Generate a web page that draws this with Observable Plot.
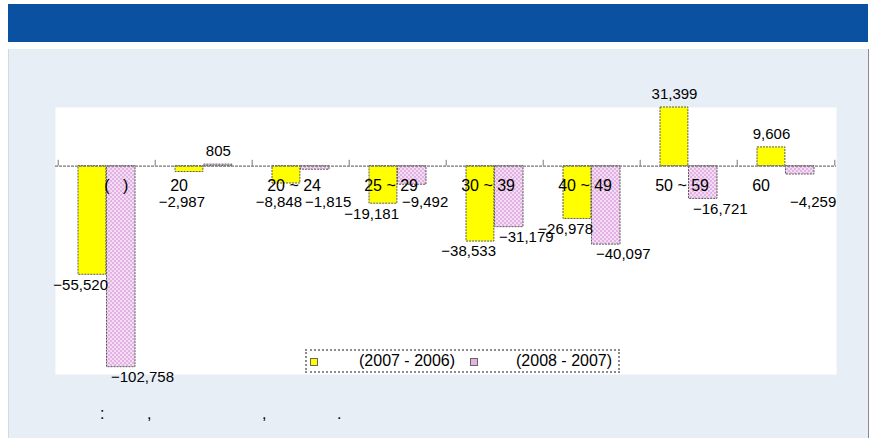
<!DOCTYPE html>
<html>
<head>
<meta charset="utf-8">
<script src="https://cdn.jsdelivr.net/npm/d3@7"></script>
<script src="https://cdn.jsdelivr.net/npm/@observablehq/plot@0.6"></script>
<style>
  html, body { margin: 0; padding: 0; background: #ffffff; }
  #wrap { position: relative; width: 874px; height: 438px; overflow: hidden;
          font-family: "Liberation Sans", Arial, sans-serif; color: #000; }
  #header { position: absolute; left: 8px; top: 4px; width: 860px; height: 38px; background: #0b51a1; }
  #panel { position: absolute; left: 8px; top: 49px; height: 389px; background: #e8eef6;
           border-left: 1px solid #d2d9e4; border-right: 1px solid #8a8a8a; box-sizing: border-box; width: 861px; }
  #chart { position: absolute; left: 0; top: 0; }
  #legend { position: absolute; left: 305px; top: 349px; width: 315px; height: 24px; box-sizing: border-box;
            background: #fff; border: 2px dotted #8c8c8c; font-size: 16px; }
  #legend .sq { position: absolute; top: 7px; width: 6px; height: 6px; border: 1px solid #666; }
  #legend .lab { position: absolute; top: 0; line-height: 20px; white-space: pre; }
  .cap { position: absolute; top: 404px; font-size: 16px; line-height: 20px; }
</style>
</head>
<body>
<div id="wrap">
  <div id="header"></div>
  <div id="panel"></div>
  <div id="chart"></div>
  <div id="legend"></div>
  <span class="cap" style="left:100px">:</span>
  <span class="cap" style="left:147px">,</span>
  <span class="cap" style="left:262px">,</span>
  <span class="cap" style="left:337px">.</span>
</div>
<script>
// ---- data ----
const categories = ["\u00a0\u00a0\u00a0\u00a0\u00a0\u00a0\u00a0(\u00a0\u00a0\u00a0)", "20", "20 ~ 24", "25 ~ 29", "30 ~ 39", "40 ~ 49", "50 ~ 59", "60"];
const change2007 = [-55520, -2987, -8848, -19181, -38533, -26978, 31399, 9606];
const change2008 = [-102758, 805, -1815, -9492, -31179, -40097, -16721, -4259];
const seriesNames = ["(2007 - 2006)", "(2008 - 2007)"];
const seriesColors = ["#ffff00", "url(#pinkDots)"];

// ---- layout ----
const W = 874, H = 438;
const mL = 55, mR = 38, mT = 107, mB = 64;
const bw = (W - mL - mR) / categories.length;
const fmt = d3.format(",");

const rows1 = categories.map((c, i) => ({cat: c, v: change2007[i]}));
const rows2 = categories.map((c, i) => ({cat: c, v: change2008[i]}));
const labelFloor = -13450; // negative labels never sit higher than this, to clear category labels

const barStyle = {stroke: "#5a5a5a", strokeWidth: 1, strokeDasharray: "2,1"};
const valFont = 15;

const chart = Plot.plot({
  width: W, height: H,
  marginLeft: mL, marginRight: mR, marginTop: mT, marginBottom: mB,
  style: {background: "transparent", fontFamily: "Liberation Sans, Arial, sans-serif", fontSize: "16px", color: "#000", overflow: "visible"},
  x: {type: "band", domain: categories, padding: 0, axis: null},
  y: {domain: [-106500, 30000], clamp: true, axis: null},
  marks: [
    Plot.frame({fill: "white", stroke: "none"}),
    Plot.barY(rows1, {x: "cat", y: "v", fill: seriesColors[0], insetLeft: 20, insetRight: bw - 48.5, ...barStyle}),
    Plot.barY(rows2, {x: "cat", y: "v", fill: seriesColors[1], insetLeft: 48.5, insetRight: 20, ...barStyle}),
    Plot.ruleY([0], {stroke: "#777", strokeWidth: 1.2, strokeDasharray: "3,1"}),
    Plot.ruleX(categories, {x: d => d, y1: 0, y2: 3000, dx: -bw / 2, stroke: "#777"}),
    Plot.ruleX(categories.slice(-1), {x: d => d, y1: 0, y2: 3000, dx: bw / 2, stroke: "#777"}),
    Plot.text(categories, {x: d => d, y: 0, text: d => d, dy: 19.5, dx: -bw / 2 + 15, textAnchor: "start", fontSize: 16, fill: "#000"}),
    Plot.text(rows1.filter(d => d.v >= 0), {x: "cat", y: "v", text: d => fmt(d.v), dx: -14.5, dy: -13, fontSize: valFont, fill: "#000"}),
    Plot.text(rows2.filter(d => d.v >= 0), {x: "cat", y: "v", text: d => fmt(d.v), dx: 14.3, dy: -13, fontSize: valFont, fill: "#000"}),
    Plot.text(rows1.filter(d => d.v < 0), {x: "cat", y: d => Math.min(d.v, labelFloor), text: d => fmt(d.v), textAnchor: "end", dx: 1, dy: 10, fontSize: valFont, fill: "#000"}),
    Plot.text(rows2.filter(d => d.v < 0), {x: "cat", y: d => Math.min(d.v, labelFloor), text: d => fmt(d.v), textAnchor: "start", dx: 4, dy: 10, fontSize: valFont, fill: "#000"})
  ]
});

// pink dotted fill pattern
const svgSel = d3.select(chart);
const pat = svgSel.insert("defs", ":first-child").append("pattern")
  .attr("id", "pinkDots").attr("patternUnits", "userSpaceOnUse")
  .attr("width", 4).attr("height", 4);
pat.append("rect").attr("width", 4).attr("height", 4).attr("fill", "#e2b2e2");
pat.append("rect").attr("x", 0).attr("y", 0).attr("width", 2).attr("height", 2).attr("fill", "#f4dcf4");
pat.append("rect").attr("x", 2).attr("y", 2).attr("width", 2).attr("height", 2).attr("fill", "#f4dcf4");
svgSel.selectAll("text").style("white-space", "pre");

document.getElementById("chart").appendChild(chart);

// legend
const legend = document.getElementById("legend");
legend.innerHTML =
  `<div class="sq" style="left:3px;background:#ffff00"></div>` +
  `<div class="lab" style="left:52px">${seriesNames[0]}</div>` +
  `<div class="sq" style="left:163px;background:#e2b2e2"></div>` +
  `<div class="lab" style="left:209px">${seriesNames[1]}</div>`;
</script>
</body>
</html>
